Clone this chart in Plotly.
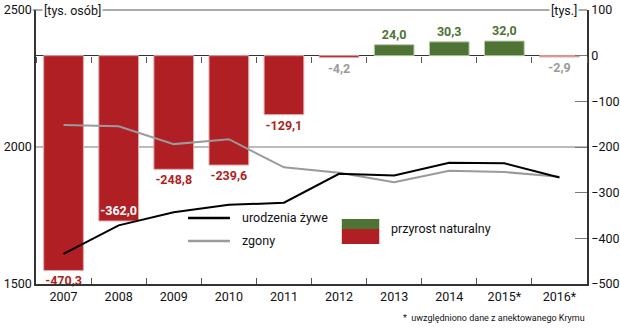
import plotly.graph_objects as go

years = ["2007", "2008", "2009", "2010", "2011", "2012", "2013", "2014", "2015*", "2016*"]
births = [1610.1, 1713.9, 1761.7, 1788.9, 1796.6, 1902.1, 1895.8, 1942.7, 1940.6, 1888.7]
deaths = [2080.4, 2075.9, 2010.5, 2028.5, 1925.7, 1906.3, 1871.8, 1913.6, 1908.5, 1891.6]
increase = [-470.3, -362.0, -248.8, -239.6, -129.1, -4.2, 24.0, 30.3, 32.0, -2.9]

RED = "#B01F24"
GREEN = "#4E7335"
FONT = "Roboto, Arial, sans-serif"

bar_colors = [GREEN if v > 0 else (RED if v < -3 else "#E07B7B") for v in increase]
edge_colors = ["#B9CBA9" if v > 0 else "#E9A5A5" for v in increase]
label_colors = [GREEN if v > 0 else (RED if v < -100 else "#9A9A9A") for v in increase]
label_colors[1] = "white"
positions = ["outside"] * len(increase)
positions[1] = "inside"
labels = [f"{v:.1f}".replace(".", ",") for v in increase]

fig = go.Figure()
# bars on the primary (right-side) axis so lines draw on top
fig.add_trace(go.Bar(
    x=years, y=increase, yaxis="y", width=0.72,
    marker=dict(color=bar_colors, line=dict(color=edge_colors, width=1)),
    text=labels, textposition=positions, insidetextanchor="end",
    textfont=dict(family=FONT, size=12.5, color=label_colors, weight="bold"),
    textangle=0, constraintext="none", cliponaxis=False, showlegend=False,
))
fig.add_trace(go.Scatter(x=years, y=deaths, mode="lines", yaxis="y2",
                         line=dict(color="#9A9A9A", width=2), showlegend=False))
fig.add_trace(go.Scatter(x=years, y=births, mode="lines", yaxis="y2",
                         line=dict(color="black", width=2), showlegend=False))
# dummy trace for the zero-line tick axis
fig.add_trace(go.Scatter(x=years, y=[None] * len(years), xaxis="x2", yaxis="y",
                         mode="lines", showlegend=False, hoverinfo="skip"))

fig.update_layout(
    width=620, height=330,
    margin=dict(l=36, r=33, t=10, b=46, autoexpand=False),
    paper_bgcolor="white", plot_bgcolor="white",
    font=dict(family=FONT, size=12, color="#111"),
    xaxis=dict(type="category", range=[-0.5, 9.5], showline=True, linecolor="#333",
               linewidth=1.5, ticks="inside", tickson="boundaries", ticklen=6,
               tickcolor="#555", showgrid=False, tickfont=dict(size=12.5),
               automargin=False),
    xaxis2=dict(type="category", range=[-0.5, 9.5], overlaying="x", anchor="free",
                position=5 / 6, showline=False, ticks="outside", tickson="boundaries",
                ticklen=6, tickcolor="#555", showticklabels=False, showgrid=False,
                automargin=False),
    yaxis=dict(range=[-500, 100], dtick=100, side="right",
               showgrid=False, showline=True, linecolor="#333", linewidth=1.5,
               ticks="inside", ticklen=12, tickcolor="#777", zeroline=True,
               zerolinecolor="#333", zerolinewidth=1, tickfont=dict(size=12.5),
               automargin=False),
    yaxis2=dict(range=[1500, 2500], dtick=500, overlaying="y", side="left",
                showgrid=True, gridcolor="#BBBBBB", gridwidth=2, showline=True,
                linecolor="#333", linewidth=1.5, ticks="", tickfont=dict(size=12.5),
                zeroline=False, automargin=False),
)

# top border line
fig.add_shape(type="line", xref="paper", yref="paper", x0=-0.006, x1=1.0, y0=1, y1=1,
              line=dict(color="#555", width=1))

# axis unit titles
fig.add_annotation(xref="paper", yref="paper", x=0.01, y=1, xanchor="left", yanchor="middle",
                   text="[tys. osób]", showarrow=False, bgcolor="white",
                   font=dict(size=12.5, color="#111"))
fig.add_annotation(xref="paper", yref="paper", x=0.985, y=1, xanchor="right", yanchor="middle",
                   text="[tys.]", showarrow=False, bgcolor="white",
                   font=dict(size=12.5, color="#111"))

# custom legend
fig.add_shape(type="line", xref="paper", yref="paper", x0=0.276, x1=0.352, y0=0.241, y1=0.241,
              line=dict(color="black", width=2.5))
fig.add_shape(type="line", xref="paper", yref="paper", x0=0.276, x1=0.352, y0=0.157, y1=0.157,
              line=dict(color="#9A9A9A", width=2.5))
fig.add_annotation(xref="paper", yref="paper", x=0.37, y=0.241, xanchor="left", yanchor="middle",
                   text="urodzenia żywe", showarrow=False, font=dict(size=12.5, color="#111"))
fig.add_annotation(xref="paper", yref="paper", x=0.37, y=0.16, xanchor="left", yanchor="middle",
                   text="zgony", showarrow=False, font=dict(size=12.5, color="#111"))
fig.add_shape(type="rect", xref="paper", yref="paper", x0=0.555, x1=0.623, y0=0.201, y1=0.237,
              line=dict(width=0), fillcolor=GREEN)
fig.add_shape(type="rect", xref="paper", yref="paper", x0=0.555, x1=0.623, y0=0.146, y1=0.201,
              line=dict(width=0), fillcolor=RED)
fig.add_annotation(xref="paper", yref="paper", x=0.64, y=0.201, xanchor="left", yanchor="middle",
                   text="przyrost naturalny", showarrow=False, font=dict(size=12.5, color="#111"))

# footnote
fig.add_annotation(xref="paper", yref="paper", x=1.0, y=-0.125, xanchor="right", yanchor="middle",
                   text="*  uwzględniono dane z anektowanego Krymu", showarrow=False,
                   font=dict(size=9, color="#111"))

fig.write_html("out.html")
